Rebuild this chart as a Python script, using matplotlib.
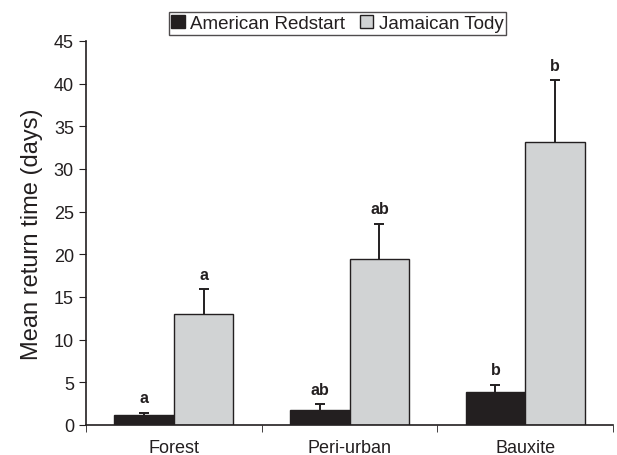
import numpy as np
import matplotlib
matplotlib.use('Agg')
import matplotlib.pyplot as plt

# data
sites = ['Forest', 'Peri-urban', 'Bauxite']
redstart_mean = [1.2, 1.8, 3.8]
redstart_se = [0.2, 0.6, 0.9]
tody_mean = [13.0, 19.4, 33.1]
tody_se = [2.9, 4.2, 7.3]
redstart_letters = ['a', 'ab', 'b']
tody_letters = ['a', 'ab', 'b']

plt.rcParams['font.family'] = ['Liberation Sans', 'DejaVu Sans']
dark = '#231f20'

fig = plt.figure(figsize=(6.17, 4.56), dpi=100)
ax = fig.add_axes([0.139, 0.066, 0.855, 0.842])

x = np.arange(len(sites))
w = 0.34

ax.bar(x - w / 2, redstart_mean, w, color=dark, edgecolor=dark,
       linewidth=1, label='American Redstart')
ax.bar(x + w / 2, tody_mean, w, color='#d1d3d4', edgecolor=dark,
       linewidth=1, label='Jamaican Tody')

# upper error bars only (hide the lower caps)
for xs, m, e in [(x - w / 2, redstart_mean, redstart_se),
                 (x + w / 2, tody_mean, tody_se)]:
    eb = ax.errorbar(xs, m, yerr=[np.zeros(3), e], fmt='none', ecolor=dark,
                     elinewidth=1.4, capsize=3.8, capthick=1.4)
    eb[1][0].set_visible(False)

for i in range(len(sites)):
    ax.text(x[i] - w / 2, redstart_mean[i] + redstart_se[i] + 0.9, redstart_letters[i],
            ha='center', va='bottom', fontsize=11.5, fontweight='bold', color=dark)
    ax.text(x[i] + w / 2, tody_mean[i] + tody_se[i] + 0.9, tody_letters[i],
            ha='center', va='bottom', fontsize=11.5, fontweight='bold', color=dark)

ax.set_ylim(0, 45)
ax.set_yticks(range(0, 46, 5))
ax.set_xlim(-0.5, 2.5)
ax.set_xticks(x)
ax.set_xticklabels(sites)
ax.set_xticks([-0.5, 0.5, 1.5, 2.5], minor=True)
ax.tick_params(axis='x', which='major', length=0, labelsize=13, pad=10, labelcolor=dark)
ax.tick_params(axis='x', which='minor', length=5, direction='out', color=dark)
ax.tick_params(axis='y', length=5, direction='out', labelsize=13, color=dark, labelcolor=dark)
ax.set_ylabel('Mean return time (days)', fontsize=17, labelpad=8, color=dark)

for s in ['top', 'right']:
    ax.spines[s].set_visible(False)
for s in ['left', 'bottom']:
    ax.spines[s].set_linewidth(1.2)
    ax.spines[s].set_color(dark)

leg = ax.legend(loc='upper center', bbox_to_anchor=(337.5 / 617, 1 - 13 / 456),
                bbox_transform=fig.transFigure, ncol=2, fontsize=13.5,
                frameon=True, fancybox=False, edgecolor=dark, handlelength=0.7,
                handleheight=0.7, handletextpad=0.3, columnspacing=0.8,
                borderpad=0.15, borderaxespad=0)
leg.get_frame().set_linewidth(1.0)
for t in leg.get_texts():
    t.set_color(dark)

fig.savefig('out.png', dpi=100)
